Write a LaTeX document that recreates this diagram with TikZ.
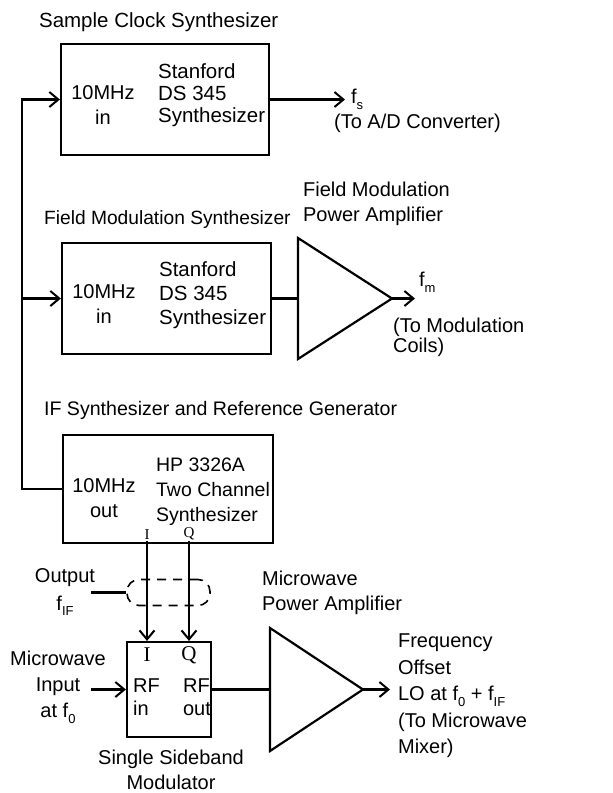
\documentclass[tikz,border=0pt]{standalone}
\usepackage{fontspec}
\setmainfont{Liberation Sans}
\newfontfamily\iqfont{Liberation Serif}
\usetikzlibrary{positioning,arrows.meta}
\newcommand{\lowsub}[1]{\raisebox{-0.55ex}{\fontsize{13}{13}\selectfont #1}}

\begin{document}
\begin{tikzpicture}[x=1pt,y=-1pt,line width=2.2pt,
  font=\fontsize{20}{25}\selectfont,
  blk/.style={draw,rectangle,inner sep=0pt},
  lbl/.style={inner sep=0pt,align=left,anchor=west},
  sig/.style={-{Straight Barb[length=9pt,width=15pt,line width=2pt]}}]
  \useasboundingbox (0,0) rectangle (613,793);

  % synthesizer boxes
  \node[blk,minimum width=208pt,minimum height=111pt] (sclk) at (165,99.5) {};
  \node[blk,minimum width=209pt,minimum height=111pt] (fmsyn) at (166.5,298.5) {};
  \node[blk,minimum width=210pt,minimum height=108pt] (hp) at (168,489) {};
  \node[blk,minimum width=84pt,minimum height=95pt] (ssb) at (169,689.5) {};

  \node[lbl,font=\fontsize{20.5}{25}\selectfont] (sclktitle) at (38,22) {Sample Clock Synthesizer};
  \node[lbl,font=\fontsize{19.2}{25}\selectfont] (fmtitle) at (43,220) {Field Modulation Synthesizer};
  \node[lbl,font=\fontsize{19.6}{25}\selectfont] (hptitle) at (43,410) {IF Synthesizer and Reference Generator};

  \node[inner sep=0pt,align=center] (sclkin) at (103,105) {10MHz\\in};
  \node[lbl,font=\fontsize{20.5}{22}\selectfont] (sclkname) at (157,95) {Stanford\\DS 345\\Synthesizer};
  \node[inner sep=0pt,align=center] (fmin) at (104,304) {10MHz\\in};
  \node[lbl,font=\fontsize{20.5}{24}\selectfont] (fmname) at (158,295) {Stanford\\DS 345\\Synthesizer};
  \node[inner sep=0pt,align=center] (hpout) at (104,498.5) {10MHz\\out};
  \node[lbl,font=\fontsize{19.5}{25}\selectfont] (hpname) at (155,492) {HP 3326A\\Two Channel\\Synthesizer};

  % 10 MHz reference bus
  \coordinate (bus) at (22,0);
  \draw[sig] (hp.west) -| (bus |- sclk.west) -- (sclk.west);
  \draw[sig] (bus |- fmsyn.west) -- (fmsyn.west);

  % sample clock output
  \coordinate (fs) at (345,99.5);
  \draw[sig] (sclk.east) -- (fs);
  \node[lbl] (fslbl) at (350,99) {f\lowsub{s}};
  \node[lbl] (adc) at (333,123) {(To A/D Converter)};

  % field modulation amplifier
  \coordinate (fampin) at (298,298.5);
  \draw (298,238) -- (298,359) -- (392,298.5) coordinate (fampout) -- cycle;
  \draw (fmsyn.east) -- (fampin);
  \coordinate (fm) at (415,298.5);
  \draw[sig] (fampout) -- (fm);
  \node[lbl] (famplbl) at (302,203.5) {Field Modulation\\Power Amplifier};
  \node[lbl] (fmlbl) at (418,282) {f\lowsub{m}};
  \node[lbl,font=\fontsize{20}{20}\selectfont] (coils) at (392,337) {(To Modulation\\Coils)};

  % I and Q channels
  \node[inner sep=0pt,anchor=south,font=\fontsize{15}{15}\iqfont] (hpI) at (147,541) {I};
  \node[inner sep=0pt,anchor=south,font=\fontsize{15}{15}\iqfont] (hpQ) at (189,541) {Q};
  \draw[sig] (hpI.south) -- (hpI.south |- ssb.north);
  \draw[sig] (hpQ.south) -- (hpQ.south |- ssb.north);
  \node[draw,dashed,dash pattern=on 9pt off 7pt,line width=1.6pt,rounded corners=12pt,
    minimum width=83pt,minimum height=26pt,inner sep=0pt] (fif) at (168.5,592.5) {};
  \coordinate (outtap) at (91,592.5);
  \draw (outtap) -- (fif.west);
  \node[inner sep=0pt,align=center] (outlbl) at (65,592) {Output\\[3pt]f\lowsub{IF}};

  % single sideband modulator
  \node[inner sep=0pt,font=\fontsize{21}{21}\iqfont] (ssbI) at (147,655) {I};
  \node[inner sep=0pt,font=\fontsize{21}{21}\iqfont] (ssbQ) at (189,655) {Q};
  \node[lbl,font=\fontsize{20}{23}\selectfont] (rfin) at (132,697) {RF\\in};
  \node[lbl,font=\fontsize{20}{23}\selectfont] (rfout) at (182,697) {RF\\out};
  \node[inner sep=0pt,align=center] (ssblbl) at (171,769.5) {Single Sideband\\Modulator};
  \node[inner sep=0pt,align=center,font=\fontsize{20}{26}\selectfont] (mwlbl) at (58,687) {Microwave\\Input\\at f\lowsub{0}};
  \coordinate (mwin) at (91,689.5);
  \draw[sig] (mwin) -- (ssb.west);

  % microwave amplifier
  \coordinate (mampin) at (270,689.5);
  \draw (270,628) -- (270,751) -- (363,689.5) coordinate (mampout) -- cycle;
  \draw (ssb.east) -- (mampin);
  \coordinate (lo) at (390,689.5);
  \draw[sig] (mampout) -- (lo);
  \node[lbl] (mamplbl) at (261,592.5) {Microwave\\Power Amplifier};
  \node[lbl,font=\fontsize{20}{26.5}\selectfont] (lolbl) at (397,696)
    {Frequency\\Offset\\LO at f\lowsub{0} + f\lowsub{IF}\\(To Microwave\\Mixer)};
\end{tikzpicture}
\end{document}
